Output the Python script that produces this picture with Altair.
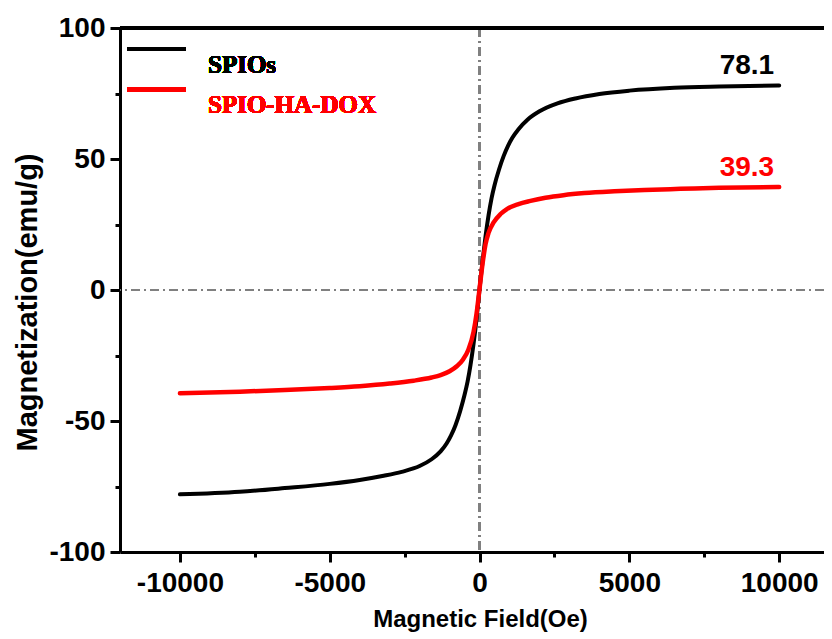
import altair as alt
import pandas as pd

# ---- data ----
series_names = ["SPIOs", "SPIO-HA-DOX"]
series_colors = ["#000000", "#ff0000"]
series_widths = [4, 4.5]

spio_field = [-10000, -8000, -6500, -5000, -4000, -3200, -2600, -2000, -1600, -1300,
              -1100, -950, -800, -650, -500, -400, -300, -200, -100, 0,
              100, 200, 300, 400, 500, 650, 800, 950, 1100, 1300,
              1600, 2000, 2600, 3200, 4000, 5000, 6500, 8000, 10000]
spio_mag = [-78.0, -77.0, -75.6, -74.0, -72.5, -70.9, -69.4, -67.2, -64.6, -61.6,
            -58.6, -55.5, -51.5, -46.3, -40.0, -35.0, -28.5, -20.5, -11.0, 0.5,
            11.0, 20.5, 28.5, 35.0, 40.0, 46.0, 51.0, 55.0, 58.2, 61.4,
            65.0, 68.2, 71.2, 73.1, 74.8, 76.1, 77.2, 77.7, 78.1]

dox_field = [-10000, -8000, -6500, -5000, -4000, -3000, -2200, -1600, -1300, -1000,
             -750, -550, -370, -200, -100, 0, 100, 200, 300, 470,
             700, 913, 1300, 1700, 2200, 2800, 3500, 4500, 5500, 6700, 8000, 10000]
dox_mag = [-39.4, -38.8, -38.2, -37.4, -36.7, -35.7, -34.6, -33.4, -32.5, -31.0,
           -29.0, -26.5, -22.7, -16.0, -9.0, 0.5, 10.0, 17.5, 21.8, 25.8,
           29.0, 30.9, 32.8, 34.0, 35.2, 36.2, 37.0, 37.7, 38.2, 38.6, 39.0, 39.3]

ms_labels = ["78.1", "39.3"]
ms_values = [78.1, 39.3]
ms_field = [10000, 10000]

x_ticks = [-10000, -7500, -5000, -2500, 0, 2500, 5000, 7500, 10000]
y_ticks = [-100, -75, -50, -25, 0, 25, 50, 75, 100]

x_title = "Magnetic Field(Oe)"
y_title = "Magnetization(emu/g)"

# ---- layout ----
W, H = 704, 524
xdom = [-12000, 11496]
ydom = [-100, 100]
SANS = "Liberation Sans"
SERIF = "Liberation Serif"

curves = pd.concat([
    pd.DataFrame({"field": spio_field, "mag": spio_mag, "series": series_names[0], "order": range(len(spio_field))}),
    pd.DataFrame({"field": dox_field, "mag": dox_mag, "series": series_names[1], "order": range(len(dox_field))}),
])
ann = pd.DataFrame({"field": ms_field, "mag": ms_values, "label": ms_labels, "series": series_names})

color = alt.Color("series:N", scale=alt.Scale(domain=series_names, range=series_colors), legend=None)

xaxis = alt.Axis(
    values=x_ticks, labelExpr="datum.value % 5000 == 0 ? '' + datum.value : ''",
    tickSize={"condition": {"test": "datum.value % 5000 != 0", "value": 5}, "value": 10},
    tickWidth=3, tickColor="black", domainWidth=3, domainColor="black", grid=False,
    labelFont=SANS, labelFontWeight="bold", labelFontSize=28, labelColor="black",
    labelPadding=7, labelFlush=False, labelOverlap=False,
    title=x_title, titleFont=SANS, titleFontWeight="bold", titleFontSize=24, titleColor="black",
    titleX=360, titleY=74, titleBaseline="alphabetic", titleAlign="center",
)
yaxis = alt.Axis(
    values=y_ticks, labelExpr="datum.value % 50 == 0 ? '' + datum.value : ''",
    tickSize={"condition": {"test": "datum.value % 50 != 0", "value": 5}, "value": 10},
    tickWidth=3, tickColor="black", domainWidth=3, domainColor="black", grid=False,
    labelFont=SANS, labelFontWeight="bold", labelFontSize=28, labelColor="black",
    labelPadding=5, labelFlush=False, labelOverlap=False,
    title=y_title, titleFont=SANS, titleFontWeight="bold", titleFontSize=29, titleColor="black",
    titleX=-93, titleY=274, titleAngle=270, titleBaseline="middle", titleAlign="center",
)

xs = alt.Scale(domain=xdom, nice=False, zero=False)
ys = alt.Scale(domain=ydom, nice=False, zero=False)

base_curves = alt.Chart(curves).mark_line(strokeCap="round", strokeJoin="round", interpolate="monotone", clip=True).encode(
    x=alt.X("field:Q", scale=xs, axis=xaxis),
    y=alt.Y("mag:Q", scale=ys, axis=yaxis),
    color=color,
    strokeWidth=alt.StrokeWidth("series:N", scale=alt.Scale(domain=series_names, range=series_widths), legend=None),
    detail="series:N",
    order="order:Q",
)

dash = [9, 4, 2, 4]
vline = alt.Chart(curves).mark_rule(color="#808080", strokeWidth=2, strokeDash=dash).encode(
    x=alt.datum(0)
)
hline = alt.Chart(curves).mark_rule(color="#808080", strokeWidth=2, strokeDash=dash).encode(
    y=alt.datum(0)
)
top_line = alt.Chart(curves).mark_rule(color="black", strokeWidth=3).encode(
    y=alt.datum(100)
)

ann_text = alt.Chart(ann).mark_text(
    align="right", baseline="alphabetic", dx=-5, dy=-11.5,
    font=SANS, fontWeight="bold", fontSize=28,
).encode(
    x=alt.X("field:Q", scale=xs),
    y=alt.Y("mag:Q", scale=ys),
    text="label:N",
    color=color,
)

legend_layers = []
leg_line_y = [21, 61.5]
leg_text_y = [44.7, 84.7]
for i, name in enumerate(series_names):
    legend_layers.append(
        alt.Chart(curves).mark_rule(color=series_colors[i], strokeWidth=4).encode(
            x=alt.value(7), x2=alt.value(66), y=alt.value(leg_line_y[i])
        )
    )
    legend_layers.append(
        alt.Chart(curves).mark_text(
            color=series_colors[i], font=SERIF, fontWeight="bold", fontSize=25,
            align="left", baseline="alphabetic",
        ).encode(x=alt.value(88), y=alt.value(leg_text_y[i]), text=alt.value(name))
    )

chart = alt.layer(
    vline, hline, top_line, base_curves, ann_text, *legend_layers
).properties(
    width=W, height=H,
    autosize=alt.AutoSizeParams(type="none"),
    padding={"left": 112, "top": 20, "right": 0, "bottom": 80},
).configure_view(stroke=None).configure(background="white")

chart.save("out.html", embed_options={"renderer": "svg", "actions": False})
